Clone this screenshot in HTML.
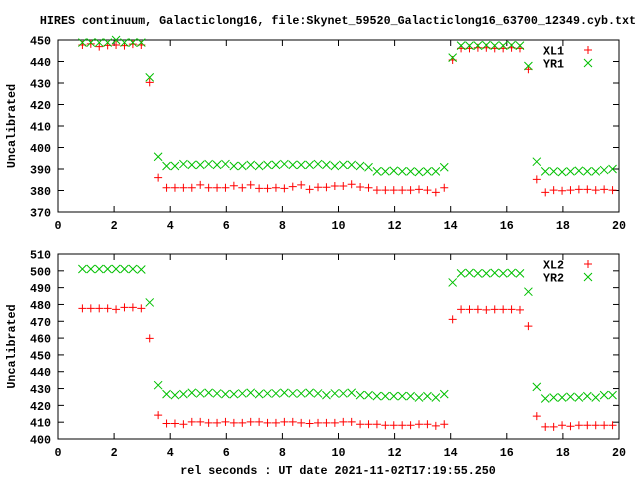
<!DOCTYPE html>
<html><head><meta charset="utf-8"><style>
html,body{margin:0;padding:0;background:#fff;}
svg{display:block;}
text{font-family:"Liberation Mono",monospace;font-weight:bold;font-size:11.7px;fill:#000;}
</style></head><body>
<svg id="chart" width="640" height="480" viewBox="0 0 640 480" xmlns="http://www.w3.org/2000/svg">
<text x="338" y="24" text-anchor="middle">HIRES continuum, Galacticlong16, file:Skynet_59520_Galacticlong16_63700_12349.cyb.txt</text>
<text x="338" y="474" text-anchor="middle">rel seconds : UT date 2021-11-02T17:19:55.250</text>
<g id="plots"></g>
</svg>
<script>
// x positions: start 0.87, step 0.3, 64 samples
const xStart = 0.87, xStep = 0.3;
const xl1 = [447.7,448.2,446.9,447.5,447.7,447.4,448.1,447.7,430.3,386.0,
381.3,381.3,381.3,381.3,382.6,381.3,381.3,381.3,382.2,381.3,382.6,381.0,381.0,381.3,381.0,381.8,382.6,380.5,381.5,381.5,382.1,382.1,382.9,381.6,381.3,380.2,380.2,380.2,380.2,380.2,380.5,380.2,379.1,381.3,
440.7,446.1,446.1,446.4,446.4,446.1,446.1,446.4,446.1,436.4,385.2,
379.1,380.2,379.9,380.2,380.5,380.5,380.2,380.5,380.2];
const yr1 = [448.8,448.8,448.8,448.8,450.0,448.8,448.8,448.8,432.6,395.7,
391.4,391.4,392.3,391.9,391.9,392.3,391.9,392.3,391.4,391.4,391.9,391.4,391.9,391.9,392.3,391.9,391.9,391.9,392.3,391.9,391.4,391.9,391.9,391.4,390.8,388.9,388.9,389.2,388.9,388.9,388.6,388.9,388.9,390.8,
441.8,447.4,447.4,447.4,447.6,447.4,447.4,447.6,447.4,437.9,393.4,
388.9,388.9,388.6,388.9,389.2,388.9,388.9,389.5,390.0];
const xl2 = [477.7,477.7,477.7,477.7,477.1,478.3,478.3,477.7,459.8,414.2,
409.2,409.2,408.8,410.2,410.2,409.6,409.6,410.2,409.6,409.6,410.2,410.2,409.6,409.6,410.2,410.2,409.6,409.2,409.6,409.6,409.6,410.2,410.2,408.8,408.8,408.8,408.2,408.2,408.2,408.2,408.8,408.8,407.8,408.8,
471.1,477.1,477.1,477.1,476.8,477.1,477.1,477.1,476.8,467.1,413.6,
407.2,407.2,408.2,407.6,408.2,408.2,408.2,408.2,408.2];
const yr2 = [501.1,501.1,501.1,501.1,501.1,501.1,501.1,500.8,481.2,432.0,
426.7,426.1,426.7,427.5,427.1,427.5,427.1,426.7,426.7,427.1,427.5,426.7,427.1,427.1,427.5,427.1,427.1,427.5,427.1,426.1,427.1,427.1,427.5,426.1,426.1,425.5,425.5,425.5,425.5,425.5,424.7,425.5,424.7,426.7,
493.1,498.5,498.8,498.5,498.5,498.8,498.5,498.8,498.5,487.6,431.0,
424.1,424.7,424.7,425.1,424.7,425.5,424.7,426.1,426.1];
const xTicks = [0,2,4,6,8,10,12,14,16,18,20];
const yTicksTop = [370,380,390,400,410,420,430,440,450];
const yTicksBot = [400,410,420,430,440,450,460,470,480,490,500,510];

const NS = "http://www.w3.org/2000/svg";
const root = document.getElementById('plots');
function mk(tag, attrs, parent){ const e=document.createElementNS(NS,tag); for(const k in attrs) e.setAttribute(k,attrs[k]); (parent||root).appendChild(e); return e; }

function panel(name, top, bottom, ymin, ymax, yTicks, series, labels){
  const L=58, R=619;
  const g = mk('g',{});
  
  
  const sx = v => L + (v-0)/(20-0)*(R-L);
  const sy = v => bottom - (v-ymin)/(ymax-ymin)*(bottom-top);
  xTicks.forEach(t=>{
    const x=sx(t);
    mk('line',{x1:x,y1:bottom,x2:x,y2:bottom-6,stroke:'#000'},g);
    mk('line',{x1:x,y1:top,x2:x,y2:top+6,stroke:'#000'},g);
    const tx = mk('text',{x:x,y:bottom+17,'text-anchor':'middle'},g);
    
    
    tx.textContent = t;
  });
  yTicks.forEach(t=>{
    const y=sy(t);
    mk('line',{x1:L,y1:y,x2:L+6,y2:y,stroke:'#000'},g);
    mk('line',{x1:R,y1:y,x2:R-6,y2:y,stroke:'#000'},g);
    const ty = mk('text',{x:51,y:y+4.5,'text-anchor':'end'},g);
    
    
    ty.textContent = t;
  });
  const fr = mk('rect',{x:L,y:top,width:R-L,height:bottom-top,fill:'none',stroke:'#000'},g);
  
  
  const yt = mk('text',{x:0,y:0,'text-anchor':'middle',transform:`translate(15,${(top+bottom)/2}) rotate(-90)`},g);
  
  
  yt.textContent = 'Uncalibrated';
  series.forEach((s,si)=>{
    const color = si===0 ? '#ff0000' : '#00c000';
    const sg = mk('g',{stroke:color,'stroke-width':1,fill:'none'},g);
    
    
    s.forEach((v,i)=>{
      const x = sx(xStart + xStep*i), y = sy(v);
      const d = si===0 ? `M${x-4},${y}H${x+4}M${x},${y-4}V${y+4}` : `M${x-4},${y-4}L${x+4},${y+4}M${x-4},${y+4}L${x+4},${y-4}`;
      const p = mk('path',{d:d},sg);
      
      
    });
    const ly = top + 10 + si*13;
    const lt = mk('text',{x:543,y:ly+4.5},g);
    
    
    lt.textContent = labels[si];
    const mx=588;
    const d = si===0 ? `M${mx-4},${ly}H${mx+4}M${mx},${ly-4}V${ly+4}` : `M${mx-4},${ly-4}L${mx+4},${ly+4}M${mx-4},${ly+4}L${mx+4},${ly-4}`;
    const lm = mk('path',{d:d,stroke:color,fill:'none'},g);
    
    
  });
}
panel('top-panel', 40, 212, 370, 450, yTicksTop, [xl1, yr1], ['XL1','YR1']);
panel('bottom-panel', 254, 439, 400, 510, yTicksBot, [xl2, yr2], ['XL2','YR2']);
</script>
</body></html>
